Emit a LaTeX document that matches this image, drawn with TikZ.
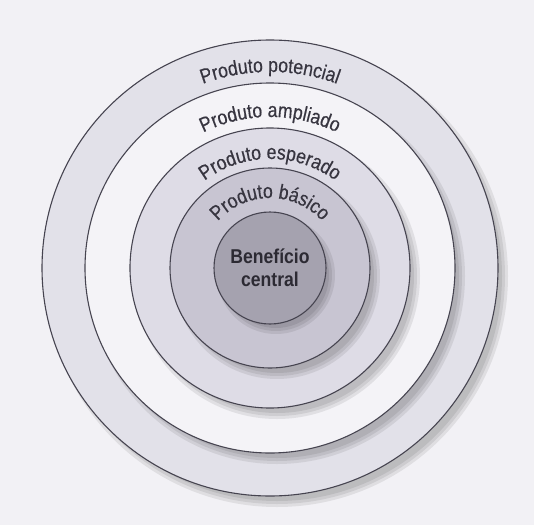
\documentclass[tikz,border=0pt]{standalone}
\usepackage{fontspec}
\newfontfamily\ringfont[FakeStretch=0.86,FakeBold=0.4]{Liberation Sans}
\newfontfamily\benfont[FakeStretch=0.88]{Liberation Sans}
\usetikzlibrary{decorations.text}
\definecolor{paper}{RGB}{242,241,245}
\definecolor{potgray}{RGB}{226,225,233}
\definecolor{ampgray}{RGB}{244,243,247}
\definecolor{espgray}{RGB}{222,220,230}
\definecolor{basgray}{RGB}{200,197,210}
\definecolor{bengray}{RGB}{165,162,175}
\definecolor{linegray}{RGB}{70,68,80}
\definecolor{inkgray}{RGB}{55,53,64}

\begin{document}
\begin{tikzpicture}[x=1pt,y=1pt,
    ring/.style={circle,draw=linegray,line width=1.1pt,inner sep=0pt,minimum size=#1},
    ringshadow/.style={fill=black,opacity=.08},
    arctext/.style={decorate,decoration={text along path,text align=center,
        text color=inkgray,text={|\ringfont\fontsize{20.5}{20.5}\selectfont|#1}}}]
        \fill[paper] (-270,-257) rectangle (264,268);
        \useasboundingbox (-270,-257) rectangle (264,268);

        % rings, from the outside in, each with a soft shadow
        \coordinate (c) at (0,0);
        \foreach \d in {0,3,6} \fill[ringshadow] ([shift={(7,-8)}]c) circle (228+\d-3);
        \node[ring=456pt,fill=potgray] (pot) at (c) {};

        \foreach \d in {0,3,6} \fill[ringshadow] ([shift={(7,-8)}]c) circle (185+\d-3);
        \node[ring=370pt,fill=ampgray] (amp) at (c) {};

        \foreach \d in {0,3,6} \fill[ringshadow] ([shift={(7,-8)}]c) circle (140+\d-3);
        \node[ring=280pt,fill=espgray] (esp) at (c) {};

        \foreach \d in {0,3,6} \fill[ringshadow] ([shift={(7,-8)}]c) circle (100+\d-3);
        \node[ring=200pt,fill=basgray] (bas) at (c) {};

        \foreach \d in {0,3,6} \fill[ringshadow] ([shift={(6,-7)}]c) circle (56+\d-3);
        \node[ring=112pt,fill=bengray,text=inkgray!80!black,align=center,
            font=\benfont\bfseries\fontsize{20}{24}\selectfont] (ben) at (c) {Benefício\\[-1pt]central};

        % labels along the rings
        \path[arctext=Produto potencial] (150:196) arc[start angle=150,end angle=30,radius=196];
        \path[arctext=Produto ampliado] (150:151) arc[start angle=150,end angle=30,radius=151];
        \path[arctext=Produto esperado] (160:109) arc[start angle=160,end angle=20,radius=109];
        \path[arctext=Produto básico] (170:70) arc[start angle=170,end angle=10,radius=70];
\end{tikzpicture}
\end{document}
